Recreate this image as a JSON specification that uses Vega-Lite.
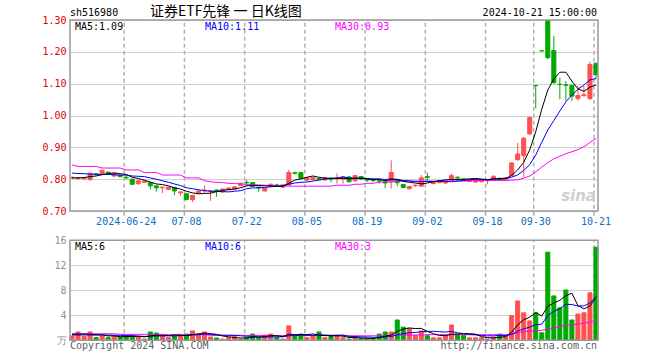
{
  "$schema": "https://vega.github.io/schema/vega-lite/v6.json",
  "width": 528,
  "height": 321,
  "autosize": {"type": "none"},
  "padding": {"left": 70, "top": 20, "right": 62, "bottom": 19},
  "background": "white",
  "config": {"view": {"stroke": null}, "font": "DejaVu Sans Mono", "axis": {"labelFont": "DejaVu Sans Mono", "labelFontSize": 10}},
  "data": {"values": [
    {"d":"2024-06-11","o":0.804,"h":0.808,"l":0.802,"c":0.806,"v":0.7,"m5":0.804,"m10":0.819,"m30":0.845,"vm5":0.95,"vm10":0.85,"vm30":1.05},
    {"d":"2024-06-12","o":0.802,"h":0.806,"l":0.800,"c":0.805,"v":1.33,"m5":0.804,"m10":0.818,"m30":0.840,"vm5":1.0,"vm10":0.85,"vm30":1.05},
    {"d":"2024-06-13","o":0.801,"h":0.805,"l":0.799,"c":0.804,"v":0.6,"m5":0.805,"m10":0.817,"m30":0.840,"vm5":1.0,"vm10":0.85,"vm30":1.05},
    {"d":"2024-06-14","o":0.799,"h":0.820,"l":0.795,"c":0.819,"v":1.33,"m5":0.808,"m10":0.816,"m30":0.840,"vm5":0.95,"vm10":0.85,"vm30":1.05},
    {"d":"2024-06-17","o":0.817,"h":0.819,"l":0.811,"c":0.815,"v":0.43,"m5":0.810,"m10":0.815,"m30":0.840,"vm5":0.88,"vm10":0.85,"vm30":1.05},
    {"d":"2024-06-18","o":0.818,"h":0.830,"l":0.814,"c":0.828,"v":0.7,"m5":0.814,"m10":0.815,"m30":0.835,"vm5":0.88,"vm10":0.85,"vm30":1.05},
    {"d":"2024-06-19","o":0.822,"h":0.824,"l":0.815,"c":0.818,"v":0.43,"m5":0.817,"m10":0.815,"m30":0.835,"vm5":0.70,"vm10":0.85,"vm30":1.05},
    {"d":"2024-06-20","o":0.810,"h":0.820,"l":0.806,"c":0.818,"v":0.7,"m5":0.820,"m10":0.814,"m30":0.835,"vm5":0.72,"vm10":0.8,"vm30":1.05},
    {"d":"2024-06-21","o":0.812,"h":0.813,"l":0.806,"c":0.808,"v":0.53,"m5":0.817,"m10":0.813,"m30":0.835,"vm5":0.56,"vm10":0.8,"vm30":0.95},
    {"d":"2024-06-24","o":0.806,"h":0.810,"l":0.800,"c":0.804,"v":0.7,"m5":0.815,"m10":0.8125,"m30":0.829,"vm5":0.61,"vm10":0.75,"vm30":0.95},
    {"d":"2024-06-25","o":0.800,"h":0.801,"l":0.781,"c":0.784,"v":0.7,"m5":0.806,"m10":0.810,"m30":0.829,"vm5":0.61,"vm10":0.75,"vm30":0.95},
    {"d":"2024-06-26","o":0.786,"h":0.797,"l":0.782,"c":0.795,"v":0.6,"m5":0.802,"m10":0.809,"m30":0.829,"vm5":0.65,"vm10":0.67,"vm30":0.95},
    {"d":"2024-06-27","o":0.790,"h":0.796,"l":0.788,"c":0.794,"v":0.2,"m5":0.797,"m10":0.808,"m30":0.821,"vm5":0.55,"vm10":0.63,"vm30":0.95},
    {"d":"2024-06-28","o":0.789,"h":0.791,"l":0.768,"c":0.779,"v":1.33,"m5":0.791,"m10":0.804,"m30":0.821,"vm5":0.71,"vm10":0.63,"vm30":0.95},
    {"d":"2024-07-01","o":0.779,"h":0.780,"l":0.761,"c":0.773,"v":1.17,"m5":0.785,"m10":0.800,"m30":0.821,"vm5":0.80,"vm10":0.71,"vm30":0.95},
    {"d":"2024-07-02","o":0.773,"h":0.776,"l":0.756,"c":0.775,"v":0.7,"m5":0.783,"m10":0.795,"m30":0.813,"vm5":0.80,"vm10":0.71,"vm30":0.95},
    {"d":"2024-07-03","o":0.768,"h":0.776,"l":0.766,"c":0.775,"v":0.43,"m5":0.779,"m10":0.7905,"m30":0.813,"vm5":0.77,"vm10":0.71,"vm30":0.88},
    {"d":"2024-07-04","o":0.774,"h":0.775,"l":0.750,"c":0.763,"v":0.7,"m5":0.773,"m10":0.785,"m30":0.813,"vm5":0.87,"vm10":0.71,"vm30":0.88},
    {"d":"2024-07-05","o":0.757,"h":0.762,"l":0.748,"c":0.760,"v":0.96,"m5":0.769,"m10":0.780,"m30":0.813,"vm5":0.79,"vm10":0.75,"vm30":0.88},
    {"d":"2024-07-08","o":0.754,"h":0.755,"l":0.733,"c":0.736,"v":1.0,"m5":0.762,"m10":0.773,"m30":0.804,"vm5":0.76,"vm10":0.78,"vm30":0.88},
    {"d":"2024-07-09","o":0.736,"h":0.750,"l":0.728,"c":0.749,"v":1.5,"m5":0.757,"m10":0.770,"m30":0.804,"vm5":0.92,"vm10":0.86,"vm30":0.88},
    {"d":"2024-07-10","o":0.757,"h":0.764,"l":0.754,"c":0.763,"v":1.0,"m5":0.754,"m10":0.767,"m30":0.804,"vm5":1.03,"vm10":0.90,"vm30":0.88},
    {"d":"2024-07-11","o":0.763,"h":0.780,"l":0.757,"c":0.766,"v":1.33,"m5":0.755,"m10":0.764,"m30":0.795,"vm5":1.16,"vm10":1.01,"vm30":0.88},
    {"d":"2024-07-12","o":0.762,"h":0.766,"l":0.732,"c":0.764,"v":0.53,"m5":0.756,"m10":0.762,"m30":0.792,"vm5":1.07,"vm10":0.93,"vm30":0.80},
    {"d":"2024-07-15","o":0.766,"h":0.768,"l":0.745,"c":0.762,"v":0.37,"m5":0.761,"m10":0.761,"m30":0.790,"vm5":0.95,"vm10":0.85,"vm30":0.80},
    {"d":"2024-07-16","o":0.760,"h":0.770,"l":0.757,"c":0.769,"v":0.2,"m5":0.765,"m10":0.761,"m30":0.789,"vm5":0.69,"vm10":0.80,"vm30":0.80},
    {"d":"2024-07-17","o":0.767,"h":0.774,"l":0.765,"c":0.772,"v":0.43,"m5":0.767,"m10":0.760,"m30":0.787,"vm5":0.57,"vm10":0.80,"vm30":0.80},
    {"d":"2024-07-18","o":0.769,"h":0.777,"l":0.767,"c":0.776,"v":0.6,"m5":0.769,"m10":0.762,"m30":0.786,"vm5":0.43,"vm10":0.79,"vm30":0.80},
    {"d":"2024-07-19","o":0.780,"h":0.789,"l":0.778,"c":0.787,"v":0.2,"m5":0.773,"m10":0.764,"m30":0.785,"vm5":0.36,"vm10":0.72,"vm30":0.80},
    {"d":"2024-07-22","o":0.790,"h":0.797,"l":0.778,"c":0.789,"v":0.43,"m5":0.779,"m10":0.770,"m30":0.784,"vm5":0.37,"vm10":0.66,"vm30":0.80},
    {"d":"2024-07-23","o":0.789,"h":0.790,"l":0.776,"c":0.777,"v":1.0,"m5":0.780,"m10":0.7725,"m30":0.783,"vm5":0.53,"vm10":0.61,"vm30":0.76},
    {"d":"2024-07-24","o":0.775,"h":0.776,"l":0.761,"c":0.772,"v":0.43,"m5":0.780,"m10":0.773,"m30":0.782,"vm5":0.53,"vm10":0.55,"vm30":0.76},
    {"d":"2024-07-25","o":0.763,"h":0.772,"l":0.761,"c":0.771,"v":0.85,"m5":0.779,"m10":0.774,"m30":0.781,"vm5":0.58,"vm10":0.50,"vm30":0.76},
    {"d":"2024-07-26","o":0.777,"h":0.786,"l":0.775,"c":0.784,"v":1.0,"m5":0.779,"m10":0.776,"m30":0.780,"vm5":0.74,"vm10":0.55,"vm30":0.76},
    {"d":"2024-07-29","o":0.782,"h":0.786,"l":0.777,"c":0.779,"v":0.43,"m5":0.777,"m10":0.778,"m30":0.779,"vm5":0.74,"vm10":0.56,"vm30":0.76},
    {"d":"2024-07-30","o":0.775,"h":0.783,"l":0.773,"c":0.782,"v":0.2,"m5":0.778,"m10":0.779,"m30":0.779,"vm5":0.58,"vm10":0.56,"vm30":0.76},
    {"d":"2024-07-31","o":0.782,"h":0.829,"l":0.781,"c":0.821,"v":2.3,"m5":0.787,"m10":0.784,"m30":0.778,"vm5":0.96,"vm10":0.74,"vm30":0.76},
    {"d":"2024-08-01","o":0.820,"h":0.824,"l":0.815,"c":0.818,"v":0.6,"m5":0.797,"m10":0.788,"m30":0.778,"vm5":0.91,"vm10":0.74,"vm30":0.76},
    {"d":"2024-08-02","o":0.821,"h":0.822,"l":0.801,"c":0.803,"v":1.0,"m5":0.801,"m10":0.790,"m30":0.778,"vm5":0.91,"vm10":0.82,"vm30":0.76},
    {"d":"2024-08-05","o":0.797,"h":0.806,"l":0.795,"c":0.805,"v":0.43,"m5":0.806,"m10":0.791,"m30":0.778,"vm5":0.91,"vm10":0.82,"vm30":0.76},
    {"d":"2024-08-06","o":0.799,"h":0.806,"l":0.796,"c":0.805,"v":0.7,"m5":0.810,"m10":0.794,"m30":0.778,"vm5":1.01,"vm10":0.79,"vm30":0.76},
    {"d":"2024-08-07","o":0.802,"h":0.804,"l":0.797,"c":0.799,"v":1.33,"m5":0.806,"m10":0.797,"m30":0.778,"vm5":0.81,"vm10":0.88,"vm30":0.76},
    {"d":"2024-08-08","o":0.798,"h":0.806,"l":0.795,"c":0.805,"v":0.43,"m5":0.803,"m10":0.800,"m30":0.778,"vm5":0.78,"vm10":0.84,"vm30":0.76},
    {"d":"2024-08-09","o":0.803,"h":0.804,"l":0.790,"c":0.800,"v":0.6,"m5":0.803,"m10":0.802,"m30":0.778,"vm5":0.70,"vm10":0.80,"vm30":0.76},
    {"d":"2024-08-12","o":0.801,"h":0.818,"l":0.786,"c":0.803,"v":0.6,"m5":0.802,"m10":0.804,"m30":0.781,"vm5":0.73,"vm10":0.82,"vm30":0.76},
    {"d":"2024-08-13","o":0.800,"h":0.808,"l":0.786,"c":0.807,"v":0.4,"m5":0.803,"m10":0.807,"m30":0.781,"vm5":0.67,"vm10":0.84,"vm30":0.76},
    {"d":"2024-08-14","o":0.807,"h":0.809,"l":0.790,"c":0.792,"v":0.2,"m5":0.801,"m10":0.804,"m30":0.781,"vm5":0.45,"vm10":0.63,"vm30":0.72},
    {"d":"2024-08-15","o":0.795,"h":0.812,"l":0.792,"c":0.811,"v":0.4,"m5":0.803,"m10":0.803,"m30":0.784,"vm5":0.44,"vm10":0.61,"vm30":0.72},
    {"d":"2024-08-16","o":0.808,"h":0.809,"l":0.798,"c":0.800,"v":0.3,"m5":0.803,"m10":0.803,"m30":0.784,"vm5":0.38,"vm10":0.54,"vm30":0.72},
    {"d":"2024-08-19","o":0.802,"h":0.803,"l":0.791,"c":0.797,"v":0.3,"m5":0.801,"m10":0.802,"m30":0.787,"vm5":0.32,"vm10":0.53,"vm30":0.72},
    {"d":"2024-08-20","o":0.798,"h":0.799,"l":0.791,"c":0.796,"v":0.3,"m5":0.799,"m10":0.801,"m30":0.787,"vm5":0.30,"vm10":0.49,"vm30":0.72},
    {"d":"2024-08-21","o":0.797,"h":0.798,"l":0.786,"c":0.794,"v":1.0,"m5":0.800,"m10":0.8005,"m30":0.791,"vm5":0.46,"vm10":0.45,"vm30":0.72},
    {"d":"2024-08-22","o":0.792,"h":0.793,"l":0.772,"c":0.788,"v":1.33,"m5":0.795,"m10":0.799,"m30":0.791,"vm5":0.65,"vm10":0.54,"vm30":0.72},
    {"d":"2024-08-23","o":0.792,"h":0.859,"l":0.770,"c":0.821,"v":1.33,"m5":0.799,"m10":0.801,"m30":0.791,"vm5":0.85,"vm10":0.62,"vm30":0.85},
    {"d":"2024-08-26","o":0.797,"h":0.799,"l":0.778,"c":0.789,"v":3.25,"m5":0.798,"m10":0.7995,"m30":0.794,"vm5":1.44,"vm10":0.88,"vm30":0.85},
    {"d":"2024-08-27","o":0.783,"h":0.785,"l":0.772,"c":0.774,"v":2.1,"m5":0.793,"m10":0.796,"m30":0.794,"vm5":1.80,"vm10":1.05,"vm30":0.85},
    {"d":"2024-08-28","o":0.770,"h":0.778,"l":0.768,"c":0.777,"v":1.9,"m5":0.790,"m10":0.795,"m30":0.794,"vm5":1.98,"vm10":1.22,"vm30":0.85},
    {"d":"2024-08-29","o":0.779,"h":0.784,"l":0.776,"c":0.781,"v":0.8,"m5":0.788,"m10":0.792,"m30":0.794,"vm5":1.88,"vm10":1.26,"vm30":0.85},
    {"d":"2024-08-30","o":0.778,"h":0.813,"l":0.776,"c":0.804,"v":1.5,"m5":0.785,"m10":0.792,"m30":0.794,"vm5":1.91,"vm10":1.38,"vm30":0.85},
    {"d":"2024-09-02","o":0.808,"h":0.821,"l":0.792,"c":0.806,"v":0.75,"m5":0.788,"m10":0.793,"m30":0.794,"vm5":1.41,"vm10":1.43,"vm30":0.90},
    {"d":"2024-09-03","o":0.786,"h":0.793,"l":0.784,"c":0.791,"v":0.4,"m5":0.792,"m10":0.7925,"m30":0.794,"vm5":1.07,"vm10":1.44,"vm30":0.90},
    {"d":"2024-09-04","o":0.789,"h":0.796,"l":0.787,"c":0.795,"v":0.4,"m5":0.795,"m10":0.793,"m30":0.794,"vm5":0.77,"vm10":1.38,"vm30":0.90},
    {"d":"2024-09-05","o":0.788,"h":0.795,"l":0.785,"c":0.794,"v":0.75,"m5":0.798,"m10":0.793,"m30":0.794,"vm5":0.76,"vm10":1.32,"vm30":0.90},
    {"d":"2024-09-06","o":0.797,"h":0.818,"l":0.795,"c":0.811,"v":2.45,"m5":0.799,"m10":0.792,"m30":0.794,"vm5":0.95,"vm10":1.43,"vm30":0.90},
    {"d":"2024-09-09","o":0.806,"h":0.808,"l":0.793,"c":0.804,"v":0.96,"m5":0.799,"m10":0.794,"m30":0.794,"vm5":0.99,"vm10":1.20,"vm30":0.90},
    {"d":"2024-09-10","o":0.800,"h":0.801,"l":0.794,"c":0.796,"v":0.75,"m5":0.800,"m10":0.796,"m30":0.794,"vm5":1.06,"vm10":1.07,"vm30":0.90},
    {"d":"2024-09-11","o":0.793,"h":0.800,"l":0.791,"c":0.799,"v":0.4,"m5":0.801,"m10":0.798,"m30":0.794,"vm5":1.06,"vm10":0.92,"vm30":0.90},
    {"d":"2024-09-12","o":0.791,"h":0.802,"l":0.789,"c":0.801,"v":0.4,"m5":0.802,"m10":0.800,"m30":0.796,"vm5":0.99,"vm10":0.88,"vm30":0.90},
    {"d":"2024-09-13","o":0.792,"h":0.799,"l":0.790,"c":0.798,"v":0.4,"m5":0.800,"m10":0.7995,"m30":0.796,"vm5":0.58,"vm10":0.77,"vm30":0.90},
    {"d":"2024-09-18","o":0.795,"h":0.799,"l":0.784,"c":0.798,"v":0.2,"m5":0.798,"m10":0.799,"m30":0.796,"vm5":0.43,"vm10":0.71,"vm30":0.90},
    {"d":"2024-09-19","o":0.796,"h":0.812,"l":0.795,"c":0.809,"v":0.5,"m5":0.801,"m10":0.8005,"m30":0.796,"vm5":0.38,"vm10":0.72,"vm30":0.90},
    {"d":"2024-09-20","o":0.803,"h":0.804,"l":0.797,"c":0.799,"v":1.0,"m5":0.801,"m10":0.801,"m30":0.796,"vm5":0.50,"vm10":0.78,"vm30":0.90},
    {"d":"2024-09-23","o":0.799,"h":0.807,"l":0.797,"c":0.805,"v":0.75,"m5":0.802,"m10":0.802,"m30":0.796,"vm5":0.57,"vm10":0.78,"vm30":0.90},
    {"d":"2024-09-24","o":0.811,"h":0.852,"l":0.809,"c":0.851,"v":3.95,"m5":0.812,"m10":0.806,"m30":0.797,"vm5":1.28,"vm10":0.93,"vm30":1.0},
    {"d":"2024-09-25","o":0.861,"h":0.914,"l":0.858,"c":0.879,"v":6.3,"m5":0.829,"m10":0.8135,"m30":0.798,"vm5":2.50,"vm10":1.47,"vm30":1.2},
    {"d":"2024-09-26","o":0.874,"h":0.931,"l":0.806,"c":0.929,"v":4.4,"m5":0.853,"m10":0.827,"m30":0.803,"vm5":3.28,"vm10":1.83,"vm30":1.4},
    {"d":"2024-09-27","o":0.942,"h":0.996,"l":0.938,"c":0.994,"v":3.1,"m5":0.892,"m10":0.846,"m30":0.810,"vm5":3.70,"vm10":2.10,"vm30":1.45},
    {"d":"2024-09-30","o":1.094,"h":1.094,"l":1.022,"c":1.094,"v":4.4,"m5":0.949,"m10":0.876,"m30":0.823,"vm5":4.43,"vm10":2.50,"vm30":1.5},
    {"d":"2024-10-08","o":1.203,"h":1.203,"l":1.203,"c":1.203,"v":1.2,"m5":1.020,"m10":0.916,"m30":0.838,"vm5":3.88,"vm10":2.58,"vm30":1.6},
    {"d":"2024-10-09","o":1.33,"h":1.33,"l":1.177,"c":1.182,"v":14.1,"m5":1.080,"m10":0.9545,"m30":0.852,"vm5":5.44,"vm10":3.97,"vm30":1.8},
    {"d":"2024-10-10","o":1.204,"h":1.25,"l":1.100,"c":1.103,"v":7.1,"m5":1.115,"m10":0.984,"m30":0.864,"vm5":5.98,"vm10":4.63,"vm30":1.9},
    {"d":"2024-10-11","o":1.098,"h":1.119,"l":1.051,"c":1.097,"v":5.2,"m5":1.136,"m10":1.014,"m30":0.872,"vm5":6.40,"vm10":5.05,"vm30":2.15},
    {"d":"2024-10-14","o":1.096,"h":1.108,"l":1.046,"c":1.095,"v":8.05,"m5":1.136,"m10":1.043,"m30":0.880,"vm5":7.13,"vm10":5.78,"vm30":2.45},
    {"d":"2024-10-15","o":1.095,"h":1.096,"l":1.046,"c":1.061,"v":3.25,"m5":1.108,"m10":1.064,"m30":0.886,"vm5":7.54,"vm10":5.71,"vm30":2.5},
    {"d":"2024-10-16","o":1.053,"h":1.093,"l":1.046,"c":1.063,"v":4.2,"m5":1.084,"m10":1.082,"m30":0.893,"vm5":5.56,"vm10":5.50,"vm30":2.6},
    {"d":"2024-10-17","o":1.062,"h":1.093,"l":1.060,"c":1.065,"v":4.4,"m5":1.076,"m10":1.096,"m30":0.902,"vm5":5.02,"vm10":5.50,"vm30":2.75},
    {"d":"2024-10-18","o":1.053,"h":1.169,"l":1.049,"c":1.160,"v":7.6,"m5":1.089,"m10":1.112,"m30":0.915,"vm5":5.50,"vm10":5.95,"vm30":2.9},
    {"d":"2024-10-21","o":1.164,"h":1.166,"l":1.114,"c":1.129,"v":14.9,"m5":1.096,"m10":1.116,"m30":0.928,"vm5":6.87,"vm10":7.00,"vm30":3.25}
  ]},
  "resolve": {"scale": {"y": "independent"}, "axis": {"y": "independent"}},
  "layer": [
    {
      "layer": [
        {
          "transform": [{"filter": {"field": "d", "oneOf": ["2024-06-24","2024-07-08","2024-07-22","2024-08-05","2024-08-19","2024-09-02","2024-09-18","2024-09-30","2024-10-21"]}}],
          "mark": {"type": "rule", "color": "#b0b0b0", "strokeDash": [4, 3], "strokeWidth": 1.5},
          "encoding": {
            "x": {"field": "d", "type": "ordinal", "bandPosition": 0},
            "y": {"datum": 0.685, "type": "quantitative"},
            "y2": {"datum": 1.3}
          }
        },
        {
          "mark": {"type": "rule", "strokeWidth": 1, "clip": true},
          "encoding": {
            "x": {"field": "d", "type": "ordinal"},
            "y": {"field": "l", "type": "quantitative",
                  "scale": {"domain": [0.7, 1.3], "range": [191, 0], "zero": false, "nice": false},
                  "axis": {"values": [0.7, 0.8, 0.9, 1.0, 1.1, 1.2, 1.3], "format": ".2f", "labelColor": "#e00000", "grid": true, "gridColor": "#a0a0a0", "gridDash": [1, 1], "gridWidth": 1, "ticks": false, "domain": false, "labelPadding": 4, "title": null, "orient": "left", "labelFontSize": 10}},
            "y2": {"field": "h"},
            "color": {"condition": {"test": "datum.c > datum.o", "value": "#ff5050"}, "value": "#00a800"}
          }
        },
        {
          "mark": {"type": "bar", "strokeWidth": 1, "clip": true},
          "encoding": {
            "x": {"field": "d", "type": "ordinal",
                  "scale": {"type": "band", "paddingInner": 0.33, "paddingOuter": 0},
                  "axis": {"values": ["2024-06-24","2024-07-08","2024-07-22","2024-08-05","2024-08-19","2024-09-02","2024-09-18","2024-09-30","2024-10-21"],
                           "labelExpr": "datum.value == '2024-06-24' ? datum.value : slice(datum.value, 5)",
                           "bandPosition": 0, "grid": false, "ticks": false, "domain": false, "labelAngle": 0,
                           "labelAlign": "center", "labelBaseline": "middle", "labelFlush": false,
                           "labelColor": "#0a70c8", "labelPadding": 10, "offset": -130, "title": null, "labelFontSize": 10}},
            "y": {"field": "o", "type": "quantitative"},
            "y2": {"field": "c"},
            "fill": {"condition": {"test": "datum.c > datum.o", "value": "#ff5050"}, "value": "#00a800"},
            "stroke": {"condition": {"test": "datum.c > datum.o", "value": "#ff5050"}, "value": "#00a800"}
          }
        },
        {
          "mark": {"type": "line", "color": "#ff00ff", "strokeWidth": 1},
          "encoding": {"x": {"field": "d", "type": "ordinal"}, "y": {"field": "m30", "type": "quantitative"}}
        },
        {
          "mark": {"type": "line", "color": "#0000ff", "strokeWidth": 1},
          "encoding": {"x": {"field": "d", "type": "ordinal"}, "y": {"field": "m10", "type": "quantitative"}}
        },
        {
          "mark": {"type": "line", "color": "#000000", "strokeWidth": 1},
          "encoding": {"x": {"field": "d", "type": "ordinal"}, "y": {"field": "m5", "type": "quantitative"}}
        },
        {
          "data": {"values": [{}]},
          "mark": {"type": "rect", "filled": false, "stroke": "#999999", "strokeWidth": 1.5},
          "encoding": {"x": {"value": 0}, "x2": {"value": 528}, "y": {"datum": 1.3, "type": "quantitative"}, "y2": {"datum": 0.7}}
        },
        {
          "data": {"values": [{}]},
          "mark": {"type": "text", "text": "sina", "font": "DejaVu Sans", "fontSize": 15, "fontWeight": "bold", "fontStyle": "italic", "color": "#d0d0d0", "align": "right", "baseline": "middle"},
          "encoding": {"x": {"value": 526}, "y": {"value": 176}}
        },
        {
          "data": {"values": [{}]},
          "mark": {"type": "text", "text": "MA5:1.09", "fontSize": 10, "color": "#000000", "align": "left", "baseline": "middle"},
          "encoding": {"x": {"value": 5}, "y": {"value": 6.5}}
        },
        {
          "data": {"values": [{}]},
          "mark": {"type": "text", "text": "MA10:1.11", "fontSize": 10, "color": "#0000ff", "align": "left", "baseline": "middle"},
          "encoding": {"x": {"value": 135}, "y": {"value": 6.5}}
        },
        {
          "data": {"values": [{}]},
          "mark": {"type": "text", "text": "MA30:0.93", "fontSize": 10, "color": "#ff00ff", "align": "left", "baseline": "middle"},
          "encoding": {"x": {"value": 265}, "y": {"value": 6.5}}
        },
        {
          "data": {"values": [{}]},
          "mark": {"type": "text", "text": "sh516980", "fontSize": 10, "color": "#000000", "align": "left", "baseline": "middle"},
          "encoding": {"x": {"value": 0}, "y": {"value": -7}}
        },
        {
          "data": {"values": [{}]},
          "mark": {"type": "text", "text": "证券ETF先锋 一 日K线图", "font": "Noto Sans CJK SC", "fontSize": 14, "color": "#000000", "align": "left", "baseline": "middle"},
          "encoding": {"x": {"value": 80}, "y": {"value": -8}}
        },
        {
          "data": {"values": [{}]},
          "mark": {"type": "text", "text": "2024-10-21 15:00:00", "fontSize": 10, "color": "#000000", "align": "right", "baseline": "middle"},
          "encoding": {"x": {"value": 527}, "y": {"value": -7}}
        }
      ]
    },
    {
      "layer": [
        {
          "transform": [{"filter": {"field": "d", "oneOf": ["2024-06-24","2024-07-08","2024-07-22","2024-08-05","2024-08-19","2024-09-02","2024-09-18","2024-09-30","2024-10-21"]}}],
          "mark": {"type": "rule", "color": "#b0b0b0", "strokeDash": [4, 3], "strokeWidth": 1.5},
          "encoding": {
            "x": {"field": "d", "type": "ordinal", "bandPosition": 0},
            "y": {"datum": 0, "type": "quantitative"},
            "y2": {"datum": 16}
          }
        },
        {
          "mark": {"type": "bar", "strokeWidth": 1},
          "encoding": {
            "x": {"field": "d", "type": "ordinal", "scale": {"type": "band", "paddingInner": 0.33, "paddingOuter": 0}},
            "y": {"field": "v", "type": "quantitative",
                  "scale": {"domain": [0, 16], "range": [320.3, 220.3], "nice": false},
                  "axis": {"values": [0, 4, 8, 12, 16], "labelExpr": "datum.value == 0 ? '万' : datum.label", "labelColor": "#909090", "grid": true, "gridColor": "#a0a0a0", "gridDash": [1, 1], "gridWidth": 1, "ticks": false, "domain": false, "labelPadding": 4, "title": null, "orient": "left", "labelFontSize": 10}},
            "fill": {"condition": {"test": "datum.c > datum.o", "value": "#ff5050"}, "value": "#00a800"},
            "stroke": {"condition": {"test": "datum.c > datum.o", "value": "#ff5050"}, "value": "#00a800"}
          }
        },
        {
          "mark": {"type": "line", "color": "#ff00ff", "strokeWidth": 1},
          "encoding": {"x": {"field": "d", "type": "ordinal"}, "y": {"field": "vm30", "type": "quantitative"}}
        },
        {
          "mark": {"type": "line", "color": "#0000ff", "strokeWidth": 1},
          "encoding": {"x": {"field": "d", "type": "ordinal"}, "y": {"field": "vm10", "type": "quantitative"}}
        },
        {
          "mark": {"type": "line", "color": "#000000", "strokeWidth": 1},
          "encoding": {"x": {"field": "d", "type": "ordinal"}, "y": {"field": "vm5", "type": "quantitative"}}
        },
        {
          "data": {"values": [{}]},
          "mark": {"type": "rect", "filled": false, "stroke": "#999999", "strokeWidth": 1.5},
          "encoding": {"x": {"value": 0}, "x2": {"value": 528}, "y": {"datum": 16, "type": "quantitative"}, "y2": {"datum": 0}}
        },
        {
          "data": {"values": [{}]},
          "mark": {"type": "text", "text": "MA5:6", "fontSize": 10, "color": "#000000", "align": "left", "baseline": "middle"},
          "encoding": {"x": {"value": 5}, "y": {"value": 226.5}}
        },
        {
          "data": {"values": [{}]},
          "mark": {"type": "text", "text": "MA10:6", "fontSize": 10, "color": "#0000ff", "align": "left", "baseline": "middle"},
          "encoding": {"x": {"value": 135}, "y": {"value": 226.5}}
        },
        {
          "data": {"values": [{}]},
          "mark": {"type": "text", "text": "MA30:3", "fontSize": 10, "color": "#ff00ff", "align": "left", "baseline": "middle"},
          "encoding": {"x": {"value": 265}, "y": {"value": 226.5}}
        },
        {
          "data": {"values": [{}]},
          "mark": {"type": "text", "text": "Copyright 2024 SINA.COM", "fontSize": 10, "color": "#606060", "align": "left", "baseline": "middle"},
          "encoding": {"x": {"value": 0}, "y": {"value": 326}}
        },
        {
          "data": {"values": [{}]},
          "mark": {"type": "text", "text": "http://finance.sina.com.cn", "fontSize": 10, "color": "#606060", "align": "right", "baseline": "middle"},
          "encoding": {"x": {"value": 527}, "y": {"value": 326}}
        }
      ]
    }
  ]
}
